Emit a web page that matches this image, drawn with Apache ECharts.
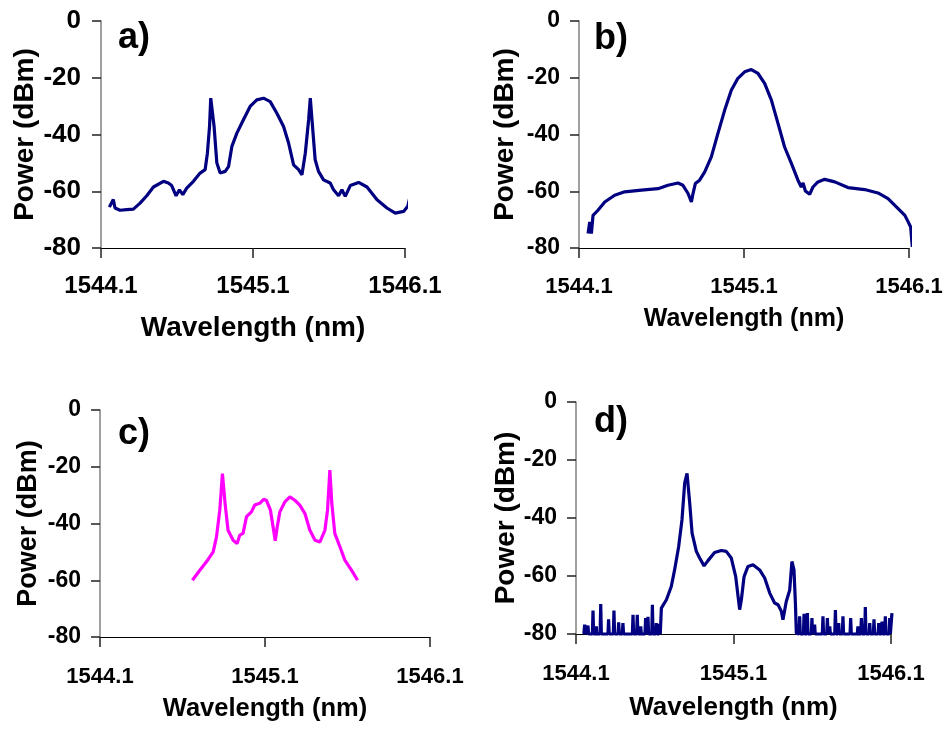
<!DOCTYPE html>
<html>
<head>
<meta charset="utf-8">
<script src="https://cdn.jsdelivr.net/npm/echarts@6.0.0/dist/echarts.min.js"></script>
<style>
  html, body { margin: 0; padding: 0; background: #fff; }
  #chart { width: 949px; height: 729px; }
</style>
</head>
<body>
<div id="chart"></div>
<script>
// tick values shared by all four panels
const xTicks = [1544.1, 1545.1, 1546.1];
const yTicks = [0, -20, -40, -60, -80];
const panelNames = ["a)", "b)", "c)", "d)"];

// a) wavelength (nm), power (dBm)
const specA = [
  [1544.155, -65.6], [1544.181, -62.9], [1544.192, -65.9], [1544.225, -66.7], [1544.269, -66.5],
  [1544.313, -66.3], [1544.357, -64.2], [1544.401, -61.6], [1544.445, -58.5], [1544.511, -56.5],
  [1544.543, -57.1], [1544.565, -58.0], [1544.594, -61.6], [1544.616, -59.5], [1544.638, -61.2],
  [1544.664, -58.9], [1544.708, -56.5], [1544.752, -53.6], [1544.785, -52.4], [1544.800, -46.6],
  [1544.814, -37.2], [1544.822, -27.2], [1544.833, -27.2], [1544.844, -37.2], [1544.862, -50.0],
  [1544.884, -53.6], [1544.917, -53.0], [1544.939, -51.3], [1544.961, -44.2], [1544.994, -39.5],
  [1545.037, -34.8], [1545.081, -30.1], [1545.125, -27.8], [1545.169, -27.2], [1545.213, -28.4],
  [1545.257, -32.5], [1545.301, -37.2], [1545.334, -43.0], [1545.367, -50.7], [1545.400, -52.4],
  [1545.422, -54.2], [1545.444, -46.6], [1545.466, -34.8], [1545.477, -27.2], [1545.488, -34.8],
  [1545.509, -48.9], [1545.531, -53.0], [1545.564, -56.0], [1545.608, -57.1], [1545.630, -59.5],
  [1545.663, -61.6], [1545.685, -59.5], [1545.707, -61.8], [1545.740, -58.0], [1545.795, -56.9],
  [1545.850, -58.5], [1545.916, -63.0], [1545.981, -65.9], [1546.036, -67.7], [1546.091, -67.1],
  [1546.118, -65.3], [1546.131, -62.4]
];

// b)
const specB = [
  [1544.155, -74.9], [1544.165, -70.8], [1544.175, -74.9], [1544.185, -68.5], [1544.215, -66.7],
  [1544.256, -63.8], [1544.316, -61.4], [1544.377, -60.2], [1544.478, -59.6], [1544.579, -59.1],
  [1544.639, -57.9], [1544.700, -57.1], [1544.730, -57.9], [1544.761, -60.8], [1544.781, -63.8],
  [1544.791, -60.8], [1544.805, -57.3], [1544.817, -57.9], [1544.831, -56.1], [1544.862, -53.2],
  [1544.902, -47.9], [1544.942, -39.6], [1544.983, -31.4], [1545.023, -24.4], [1545.063, -20.2],
  [1545.104, -17.9], [1545.144, -17.1], [1545.185, -18.5], [1545.225, -22.0], [1545.266, -27.9],
  [1545.306, -36.1], [1545.346, -44.4], [1545.387, -50.2], [1545.427, -56.1], [1545.447, -58.5],
  [1545.458, -57.1], [1545.472, -59.9], [1545.498, -61.1], [1545.518, -58.5], [1545.548, -56.7],
  [1545.589, -55.8], [1545.650, -56.7], [1545.730, -58.7], [1545.831, -59.4], [1545.912, -60.6],
  [1545.973, -62.6], [1546.034, -66.1], [1546.075, -68.5], [1546.095, -70.8], [1546.110, -72.6],
  [1546.120, -79.6]
];

// c)
const specC = [
  [1544.660, -60.0], [1544.705, -56.5], [1544.745, -53.5], [1544.786, -50.0], [1544.806, -44.7],
  [1544.826, -35.3], [1544.842, -22.4], [1544.850, -21.8], [1544.858, -32.9], [1544.876, -42.4],
  [1544.907, -45.9], [1544.931, -47.1], [1544.947, -44.1], [1544.967, -43.5], [1544.988, -37.6],
  [1545.018, -35.9], [1545.038, -33.5], [1545.068, -32.9], [1545.092, -31.5], [1545.108, -31.8],
  [1545.133, -35.3], [1545.149, -41.2], [1545.162, -46.1], [1545.174, -41.2], [1545.190, -35.9],
  [1545.220, -32.4], [1545.251, -30.6], [1545.281, -31.8], [1545.311, -33.5], [1545.342, -36.5],
  [1545.372, -42.4], [1545.403, -45.9], [1545.433, -46.5], [1545.463, -42.4], [1545.479, -35.3],
  [1545.493, -21.2], [1545.505, -32.9], [1545.523, -43.5], [1545.554, -48.2], [1545.584, -52.9],
  [1545.625, -56.5], [1545.661, -60.0]
];

// d) noise floor spikes, main spectrum, noise floor spikes
const specD = [
  [1544.150, -80], [1544.155, -76.8], [1544.160, -80], [1544.172, -80], [1544.176, -77.1], [1544.180, -80],
  [1544.204, -80], [1544.208, -71.9], [1544.212, -80], [1544.226, -80], [1544.229, -77.4], [1544.232, -80],
  [1544.253, -80], [1544.257, -69.7], [1544.261, -80], [1544.303, -80], [1544.307, -74.9], [1544.311, -80],
  [1544.337, -80], [1544.341, -71.9], [1544.345, -80], [1544.367, -80], [1544.371, -76.0], [1544.375, -80],
  [1544.394, -80], [1544.398, -76.2], [1544.402, -80], [1544.458, -80], [1544.462, -73.4], [1544.466, -80],
  [1544.485, -80], [1544.489, -73.4], [1544.493, -80], [1544.507, -80], [1544.511, -77.4], [1544.515, -80],
  [1544.538, -80], [1544.542, -74.5], [1544.546, -80], [1544.553, -80], [1544.557, -74.1], [1544.561, -80],
  [1544.581, -80], [1544.585, -69.9], [1544.589, -80], [1544.606, -80], [1544.610, -76.2], [1544.614, -80],
  [1544.627, -80], [1544.631, -76.5], [1544.635, -80], [1544.640, -80],
  [1544.642, -71.1], [1544.674, -68.2], [1544.705, -63.6], [1544.726, -57.9], [1544.752, -49.8],
  [1544.773, -40.6], [1544.790, -28.0], [1544.805, -24.6], [1544.822, -34.9], [1544.837, -45.2],
  [1544.864, -51.5], [1544.885, -53.8], [1544.913, -56.5], [1544.938, -54.7], [1544.980, -51.9],
  [1545.023, -51.2], [1545.054, -51.5], [1545.086, -53.8], [1545.114, -60.2], [1545.139, -71.6],
  [1545.150, -68.2], [1545.167, -60.2], [1545.192, -56.7], [1545.224, -56.1], [1545.266, -57.9],
  [1545.298, -60.7], [1545.330, -65.9], [1545.361, -69.3], [1545.383, -69.9], [1545.404, -72.2],
  [1545.414, -75.1], [1545.435, -68.8], [1545.457, -64.8], [1545.471, -55.0], [1545.484, -57.9],
  [1545.493, -69.3], [1545.499, -79.7],
  [1545.516, -80], [1545.520, -73.9], [1545.524, -80], [1545.544, -80], [1545.548, -73.0], [1545.552, -80],
  [1545.565, -80], [1545.569, -72.8], [1545.573, -80], [1545.594, -80], [1545.598, -74.5], [1545.602, -80],
  [1545.611, -80], [1545.615, -76.8], [1545.619, -80], [1545.664, -80], [1545.668, -73.9], [1545.672, -80],
  [1545.692, -80], [1545.696, -74.5], [1545.700, -80], [1545.707, -80], [1545.711, -77.4], [1545.715, -80],
  [1545.743, -80], [1545.747, -71.7], [1545.751, -80], [1545.764, -80], [1545.768, -76.2], [1545.772, -80],
  [1545.791, -80], [1545.795, -73.9], [1545.799, -80], [1545.840, -80], [1545.844, -74.5], [1545.848, -80],
  [1545.886, -80], [1545.890, -77.4], [1545.894, -80], [1545.908, -80], [1545.912, -74.5], [1545.916, -80],
  [1545.933, -80], [1545.937, -70.7], [1545.941, -80], [1545.961, -80], [1545.965, -76.2], [1545.969, -80],
  [1545.988, -80], [1545.992, -74.9], [1545.996, -80], [1546.018, -80], [1546.022, -76.2], [1546.026, -80],
  [1546.039, -80], [1546.043, -75.7], [1546.047, -80], [1546.060, -80], [1546.064, -73.9], [1546.068, -80],
  [1546.088, -80], [1546.092, -74.5], [1546.096, -80], [1546.102, -80], [1546.106, -72.8]
];

const spectra = [specA, specB, specC, specD];
const lineColors = ["#000080", "#000080", "#ff00ff", "#000080"];

// layout of each panel (pixels)
const panels = [
  { left: 101, top: 21, width: 304, height: 227, xTick: 24, yTick: 26, xName: 28, yName: 28, xGap: 66, yGap: 62, xMargin: 26, yMargin: 20, tagX: 118, tagY: 40 },
  { left: 579, top: 21, width: 330, height: 227, xTick: 22, yTick: 23, xName: 25, yName: 28, xGap: 59, yGap: 60, xMargin: 28, yMargin: 19, tagX: 594, tagY: 41 },
  { left: 100, top: 410, width: 330, height: 227, xTick: 22, yTick: 23, xName: 25.5, yName: 27, xGap: 59, yGap: 58, xMargin: 29, yMargin: 19, tagX: 118, tagY: 436 },
  { left: 576, top: 402, width: 315, height: 232, xTick: 22, yTick: 23, xName: 26, yName: 28, xGap: 61, yGap: 55, xMargin: 29, yMargin: 19, tagX: 594, tagY: 424 }
];

const font = "'Liberation Sans', Arial, sans-serif";

const chart = echarts.init(document.getElementById("chart"));

const option = {
  animation: false,
  backgroundColor: "#fff",
  grid: panels.map(p => ({ left: p.left, top: p.top, width: p.width, height: p.height })),
  xAxis: panels.map((p, i) => ({
    gridIndex: i,
    type: "value",
    min: 1544.1,
    max: 1546.1,
    name: "Wavelength (nm)",
    nameLocation: "middle",
    nameGap: p.xGap,
    nameTextStyle: { fontFamily: font, fontWeight: "bold", fontSize: p.xName, color: "#000" },
    axisLine: { onZero: false, lineStyle: { color: "#000", width: 1 } },
    axisTick: { show: true, length: 10, customValues: xTicks, lineStyle: { color: "#222", width: 1.5 } },
    axisLabel: {
      customValues: xTicks,
      margin: p.xMargin,
      fontFamily: font, fontWeight: "bold", fontSize: p.xTick, color: "#000",
      formatter: v => v.toFixed(1)
    },
    splitLine: { show: false }
  })),
  yAxis: panels.map((p, i) => ({
    gridIndex: i,
    type: "value",
    min: -80,
    max: 0,
    interval: 20,
    name: "Power (dBm)",
    nameLocation: "middle",
    nameGap: p.yGap,
    nameTextStyle: { fontFamily: font, fontWeight: "bold", fontSize: p.yName, color: "#000" },
    axisLine: { show: true, onZero: false, lineStyle: { color: "#808080", width: 1.5 } },
    axisTick: { show: true, length: 9, lineStyle: { color: "#222", width: 1.5 } },
    axisLabel: {
      margin: p.yMargin,
      fontFamily: font, fontWeight: "bold", fontSize: p.yTick, color: "#000"
    },
    splitLine: { show: false }
  })),
  series: spectra.map((s, i) => ({
    type: "line",
    xAxisIndex: i,
    yAxisIndex: i,
    data: s,
    showSymbol: false,
    clip: false,
    lineStyle: { color: lineColors[i], width: 3.2 },
    z: 3
  })),
  graphic: panels.map((p, i) => ({
    type: "text",
    left: p.tagX,
    top: p.tagY - 20,
    style: { text: panelNames[i], font: "bold 36px " + font, fill: "#000" }
  }))
};

chart.setOption(option);
</script>
</body>
</html>
